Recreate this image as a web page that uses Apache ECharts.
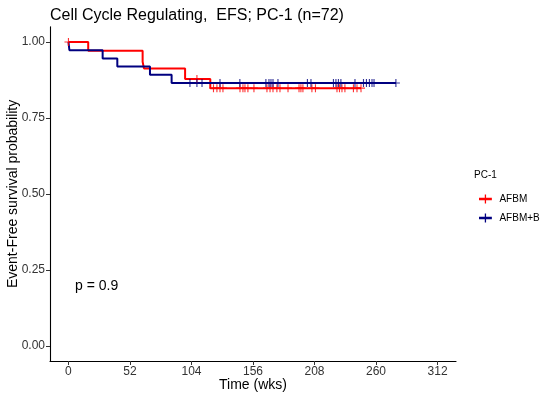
<!DOCTYPE html>
<html>
<head>
<meta charset="utf-8">
<script src="https://cdn.jsdelivr.net/npm/echarts@6/dist/echarts.min.js"></script>
<style>html,body{margin:0;padding:0;background:#fff}#c{width:550px;height:400px}</style>
</head>
<body>
<div id="c"></div>
<script>
// ---- data ----
var groupNames = ['AFBM', 'AFBM+B'];
var xTicks = [0, 52, 104, 156, 208, 260, 312];
var yTicks = [0, 0.25, 0.5, 0.75, 1.0];

// Kaplan-Meier steps: times and survival after each step
var afbmTimes = [0, 16.7, 62.7, 63.8, 98.6, 119.9];
var afbmSurv  = [1.0, 0.971, 0.935, 0.913, 0.878, 0.848];
var afbmEnd   = 247.3;
var afbmCensor = [0, 108.6, 122.6, 125.5, 128.1, 130.6, 145.0, 147.5, 149.2, 151.7, 156.8,
  167.8, 170.4, 172.9, 176.2, 178.8, 185.6, 194.9, 196.5, 198.2, 205.8, 208.8,
  227.0, 229.1, 231.2, 233.7, 240.9, 243.9, 247.3];

var afbmbTimes = [0, 0.8, 28.9, 41.3, 68.9, 87.2];
var afbmbSurv  = [1.0, 0.973, 0.946, 0.919, 0.892, 0.865];
var afbmbEnd   = 276.8;
var afbmbCensor = [102.7, 108.6, 112.9, 128.1, 144.9, 166.9, 169.5, 171.2, 172.9, 177.1,
  202.0, 205.0, 224.0, 226.1, 228.2, 230.3, 242.2, 249.4, 251.9, 254.4, 256.6, 258.3, 276.8];

var titleText = 'Cell Cycle Regulating,  EFS; PC-1 (n=72)';
var pText = 'p = 0.9';
var legendTitle = 'PC-1';

// ---- helpers ----
function stepLine(times, surv, end) {
  var d = [];
  for (var i = 0; i < times.length; i++) d.push([times[i], surv[i]]);
  d.push([end, surv[surv.length - 1]]);
  return d;
}
function survAt(times, surv, t) {
  var s = surv[0];
  for (var i = 0; i < times.length; i++) if (times[i] <= t) s = surv[i];
  return s;
}
function censorPts(times, surv, cens) {
  return cens.map(function (t) { return [t, survAt(times, surv, t)]; });
}

var colors = ['#ff0000', '#000080'];
var plusSym = 'path://M0,43h100v14h-100z M43,0h14v100h-14z';
var legendIcon = 'path://M0,26h100v18h-100z M45,0h10v70h-10z';
var font = 'Liberation Sans, Arial, sans-serif';

var chart = echarts.init(document.getElementById('c'), null, { renderer: 'canvas' });
chart.setOption({
  animation: false,
  backgroundColor: '#fff',
  title: {
    text: titleText, left: 45, top: 3,
    textStyle: { fontFamily: font, fontSize: 16, fontWeight: 'normal', color: '#000' }
  },
  grid: { left: 50, right: 94, top: 26.8, bottom: 39, containLabel: false, outerBoundsMode: 'none' },
  xAxis: {
    type: 'value', min: -15.6, max: 327.6,
    name: 'Time (wks)', nameLocation: 'middle', nameGap: 17, nameMoveOverlap: false,
    nameTextStyle: { fontFamily: font, fontSize: 14, color: '#000', verticalAlign: 'top' },
    axisLine: { show: true, onZero: false, lineStyle: { color: '#000', width: 1.1 } },
    axisTick: { show: true, length: 4, lineStyle: { color: '#333' }, customValues: xTicks },
    axisLabel: { fontFamily: font, fontSize: 12, color: '#333', margin: 5, customValues: xTicks,
      formatter: function (v) { return String(v); } },
    splitLine: { show: false }
  },
  yAxis: {
    type: 'value', min: -0.05, max: 1.05,
    name: 'Event-Free survival probability', nameLocation: 'middle', nameGap: 30, nameMoveOverlap: false,
    nameTextStyle: { fontFamily: font, fontSize: 14, color: '#000' },
    axisLine: { show: true, onZero: false, lineStyle: { color: '#000', width: 1.1 } },
    axisTick: { show: true, length: 4, lineStyle: { color: '#333' }, customValues: yTicks },
    axisLabel: { fontFamily: font, fontSize: 12, color: '#333', margin: 5, customValues: yTicks,
      formatter: function (v) { return v.toFixed(2); } },
    splitLine: { show: false }
  },
  legend: {
    orient: 'vertical', left: 474, top: 189, itemWidth: 14, itemHeight: 9, itemGap: 9,
    data: [{ name: groupNames[0], icon: legendIcon }, { name: groupNames[1], icon: legendIcon }],
    textStyle: { fontFamily: font, fontSize: 10, color: '#000', padding: [0, 0, 0, 2] }
  },
  graphic: [
    { type: 'text', left: 474, top: 170, style: { text: legendTitle, fontFamily: font, fontSize: 10, fill: '#000' } },
    { type: 'text', left: 75, top: 279, style: { text: pText, fontFamily: font, fontSize: 14, fill: '#000' } }
  ],
  series: [
    { name: groupNames[0], type: 'line', step: 'end', showSymbol: false, symbol: 'none',
      data: stepLine(afbmTimes, afbmSurv, afbmEnd), color: colors[0],
      lineStyle: { color: colors[0], width: 2 }, z: 3 },
    { name: groupNames[1], type: 'line', step: 'end', showSymbol: false, symbol: 'none',
      data: stepLine(afbmbTimes, afbmbSurv, afbmbEnd), color: colors[1],
      lineStyle: { color: colors[1], width: 2 }, z: 4 },
    { name: groupNames[0], type: 'scatter', symbol: plusSym, symbolSize: 8,
      data: censorPts(afbmTimes, afbmSurv, afbmCensor), itemStyle: { color: colors[0] }, z: 5 },
    { name: groupNames[1], type: 'scatter', symbol: plusSym, symbolSize: 8,
      data: censorPts(afbmbTimes, afbmbSurv, afbmbCensor), itemStyle: { color: colors[1] }, z: 6 }
  ]
});
</script>
</body>
</html>
